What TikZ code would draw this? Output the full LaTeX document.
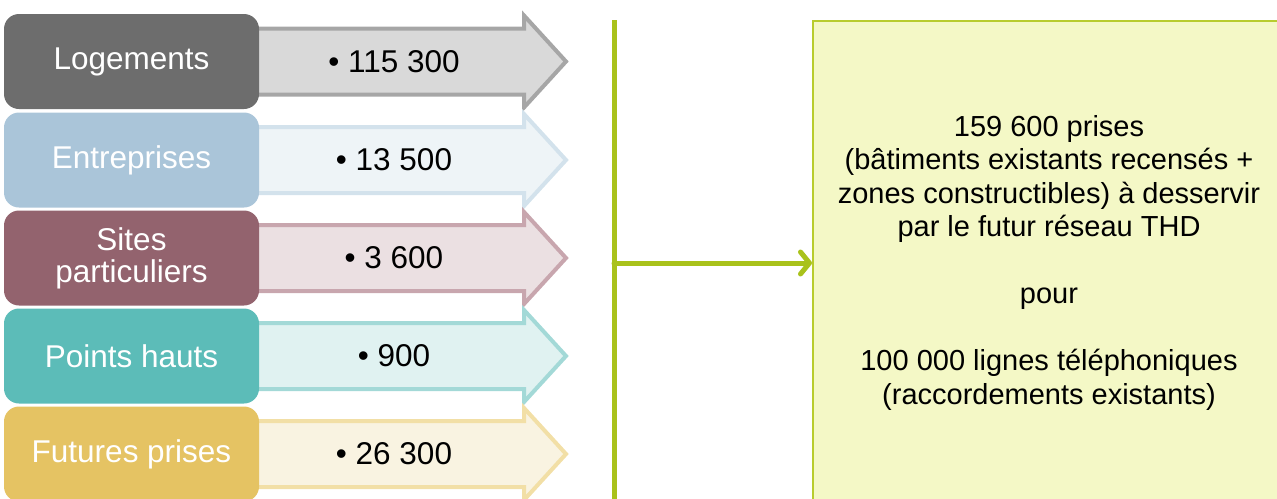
\documentclass[tikz,border=0pt]{standalone}
\usepackage{fontspec}
\setmainfont{Liberation Sans}
\usetikzlibrary{arrows.meta}

\definecolor{logbox}{HTML}{6D6D6D}
\definecolor{logfill}{HTML}{D9D9D9}
\definecolor{logedge}{HTML}{A6A6A6}
\definecolor{entbox}{HTML}{AAC5D9}
\definecolor{entfill}{HTML}{EEF4F7}
\definecolor{entedge}{HTML}{D3E2EC}
\definecolor{sitbox}{HTML}{93636E}
\definecolor{sitfill}{HTML}{EBE0E2}
\definecolor{sitedge}{HTML}{C8A6AE}
\definecolor{ptsbox}{HTML}{5CBCB8}
\definecolor{ptsfill}{HTML}{E0F2F1}
\definecolor{ptsedge}{HTML}{A3D9D7}
\definecolor{futbox}{HTML}{E5C363}
\definecolor{futfill}{HTML}{F9F3E1}
\definecolor{futedge}{HTML}{F2DFA6}
\definecolor{busline}{HTML}{A9C21B}
\definecolor{totfill}{HTML}{F4F8C6}
\definecolor{totedge}{HTML}{B8CC2E}

\def\rowarrow#1{(240,#1-33) -- (524,#1-33) -- (524,#1-46) -- (566,#1) -- (524,#1+46) -- (524,#1+33) -- (240,#1+33) -- cycle}

\tikzset{
  catbox/.style={rounded corners=15pt, minimum width=255pt, minimum height=95pt, inner sep=0pt,
    text=white, align=center, font=\fontsize{31.5}{32}\selectfont},
  count/.style={text=black, font=\fontsize{31.5}{32}\selectfont},
  arrowbody/.style 2 args={fill=#1, draw=#2, line width=4pt, miter limit=4},
  bus/.style={draw=busline, line width=5pt},
}

\begin{document}
\begin{tikzpicture}[x=1pt, y=-1pt]
\useasboundingbox (0,0) rectangle (1277,498);
\begin{scope}
  \filldraw[arrowbody={logfill}{logedge}] \rowarrow{61.5};
  \filldraw[arrowbody={entfill}{entedge}] \rowarrow{160};
  \filldraw[arrowbody={sitfill}{sitedge}] \rowarrow{258};
  \filldraw[arrowbody={ptsfill}{ptsedge}] \rowarrow{356};
  \filldraw[arrowbody={futfill}{futedge}] \rowarrow{454};
\end{scope}
\node[catbox, fill=logbox] (logements) at (131.5,61.5) {Logements};
\node[catbox, fill=entbox] (entreprises) at (131.5,160) {Entreprises};
\node[catbox, fill=sitbox] (sites) at (131.5,258) {Sites\\particuliers};
\node[catbox, fill=ptsbox] (points) at (131.5,356) {Points hauts};
\node[catbox, fill=futbox] (futures) at (131.5,454) {Futures prises};
\node[count] (nlogements) at (394,61.5) {• 115 300};
\node[count] (nentreprises) at (394,160) {• 13 500};
\node[count] (nsites) at (394,258) {• 3 600};
\node[count] (npoints) at (394,356) {• 900};
\node[count] (nfutures) at (394,454) {• 26 300};

\node[draw=totedge, line width=2pt, fill=totfill, minimum width=472pt, minimum height=483pt,
  inner sep=0pt, anchor=north west, align=center, font=\fontsize{29}{33.5}\selectfont] (total) at (812,20)
  {159 600 prises\\(bâtiments existants recensés +\\zones constructibles) à desservir\\par le futur réseau THD\\[33.5pt]
   pour\\[33.5pt]100 000 lignes téléphoniques\\(raccordements existants)};

\coordinate (bustop) at (614,20);
\coordinate (busbot) at (614,500);
\coordinate (busmid) at (614,263);
\draw[bus] (bustop) -- (busbot);
\draw[bus, line cap=round, -{Straight Barb[length=9pt,width=22pt,round]}] (busmid) -- (busmid -| total.west);
\end{tikzpicture}
\end{document}
